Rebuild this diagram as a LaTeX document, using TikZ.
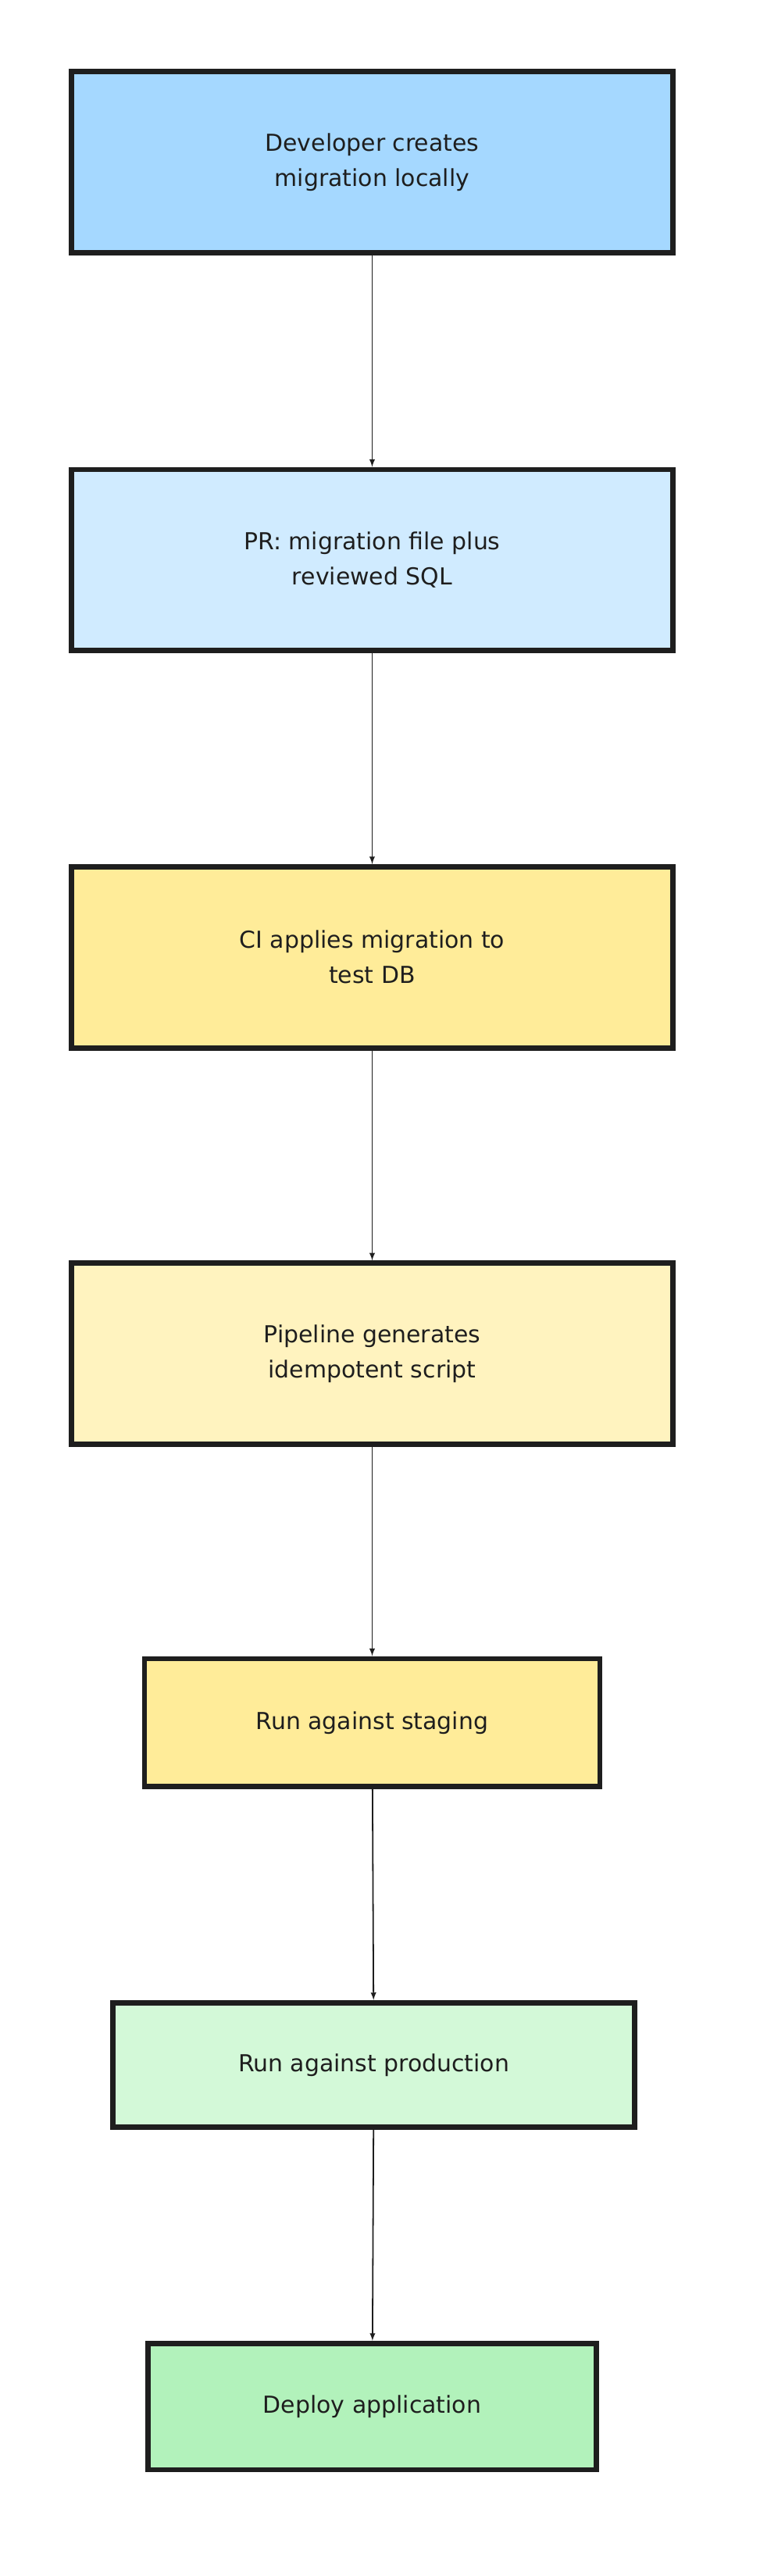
\documentclass[tikz,border=0pt]{standalone}
\usepackage{fontspec}
\setmainfont{DejaVu Sans}
\usetikzlibrary{positioning}
\definecolor{stepblue}{HTML}{A5D8FF}
\definecolor{steplightblue}{HTML}{D0EBFF}
\definecolor{stepyellow}{HTML}{FFEC99}
\definecolor{steplightyellow}{HTML}{FFF3BF}
\definecolor{steplightgreen}{HTML}{D3F9D8}
\definecolor{stepgreen}{HTML}{B2F2BB}
\definecolor{inkgrey}{HTML}{1E1E1E}
\tikzstyle{stage} = [rectangle, draw=inkgrey, line width=4.5pt, align=center, text=inkgrey, font=\fontsize{20}{30}\selectfont, minimum height=5.45cm]
\tikzstyle{arrow} = [line width=1.2pt, ->, >=latex, color=inkgrey]
\begin{document}
\begin{tikzpicture}[x=0.05cm, y=-0.05cm]
\useasboundingbox (0,0) rectangle (457,1550);
% stages
\node (dev) [stage, fill=stepblue, minimum width=18.1cm] at (224,97.5) {Developer creates\\migration locally};
\node (pr) [stage, fill=steplightblue, minimum width=18.1cm] at (224,337) {PR: migration file plus\\reviewed SQL};
\node (ci) [stage, fill=stepyellow, minimum width=18.1cm] at (224,576) {CI applies migration to\\test DB};
\node (gen) [stage, fill=steplightyellow, minimum width=18.1cm] at (224,814.5) {Pipeline generates\\idempotent script};
\node (staging) [stage, fill=stepyellow, minimum width=13.7cm, minimum height=3.85cm] at (224,1036.5) {Run against staging};
\node (prod) [stage, fill=steplightgreen, minimum width=15.7cm, minimum height=3.75cm] at (225,1242.5) {Run against production};
\node (deploy) [stage, fill=stepgreen, minimum width=13.5cm, minimum height=3.8cm] at (224,1448) {Deploy application};

% flow
\draw[arrow] (dev) -- (pr);
\draw[arrow] (pr) -- (ci);
\draw[arrow] (ci) -- (gen);
\draw[arrow] (gen) -- (staging);
\draw[arrow] (staging) -- (prod);
\draw[arrow] (prod) -- (deploy);
\end{tikzpicture}
\end{document}
